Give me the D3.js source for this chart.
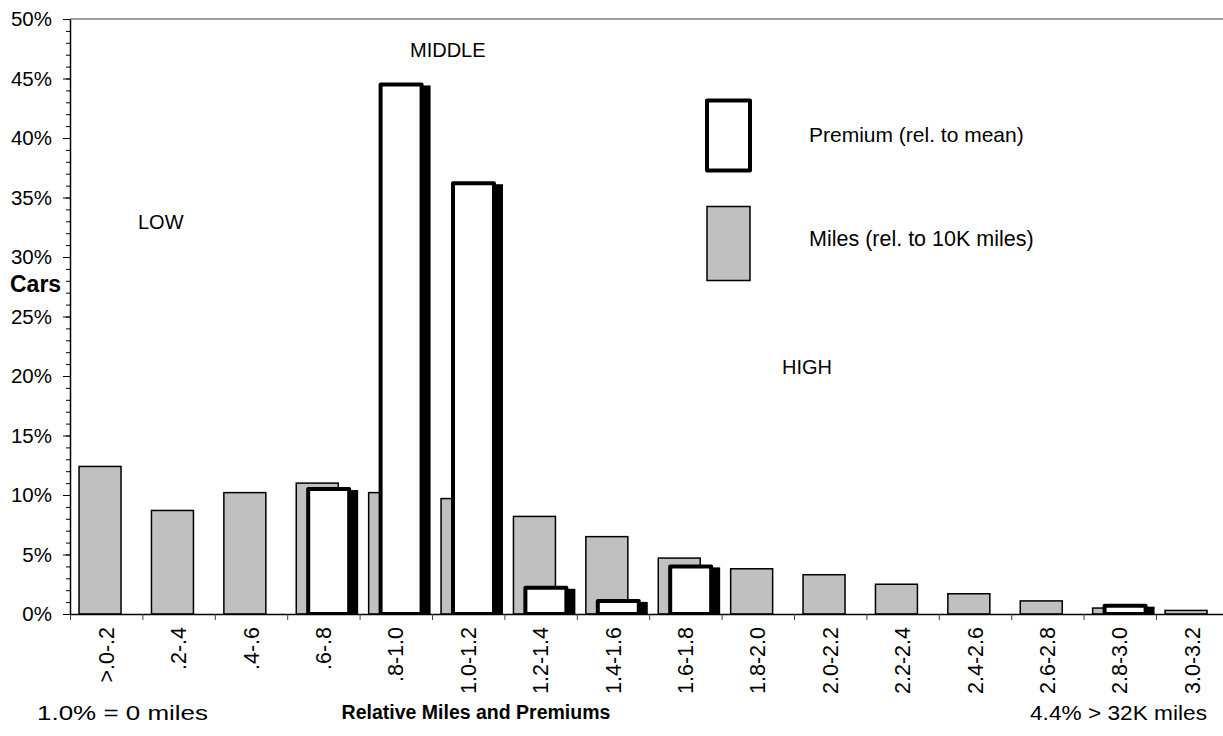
<!DOCTYPE html>
<html>
<head>
<meta charset="utf-8">
<script src="https://cdn.jsdelivr.net/npm/d3@7"></script>
<style>
  body { margin: 0; background: #fff; }
  text { font-family: "Liberation Sans", Arial, sans-serif; fill: #000; }
</style>
</head>
<body>
<svg id="chart" width="1223" height="736"></svg>
<script>
// Mileage bands, relative to 10K miles / relative premium
const categories = [">.0-.2", ".2-.4", ".4-.6", ".6-.8", ".8-1.0", "1.0-1.2", "1.2-1.4", "1.4-1.6",
                    "1.6-1.8", "1.8-2.0", "2.0-2.2", "2.2-2.4", "2.4-2.6", "2.6-2.8", "2.8-3.0", "3.0-3.2"];
// Share of cars (%) by relative miles driven
const milesShare = [12.4, 8.7, 10.2, 11.0, 10.2, 9.7, 8.2, 6.5, 4.7, 3.8, 3.3, 2.5, 1.7, 1.1, 0.5, 0.3];
// Share of cars (%) by relative premium paid (null = no cars in band)
const premiumShare = [null, null, null, 10.5, 44.5, 36.2, 2.2, 1.1, 4.0, null, null, null, null, null, 0.7, null];
const yTickValues = [0, 5, 10, 15, 20, 25, 30, 35, 40, 45, 50];
const seriesNames = ["Premium (rel. to mean)", "Miles (rel. to 10K miles)"];
const bandNames = ["LOW", "MIDDLE", "HIGH"];

const svg = d3.select("#chart");
const plotLeft = 70, plotTop = 19, plotBase = 614, bandW = 72.4;
const plotRight = plotLeft + categories.length * bandW;

const x = d3.scaleBand().domain(categories).range([plotLeft, plotRight]).padding(0);
const xEdge = d3.scaleLinear().domain([0, categories.length]).range([plotLeft, plotRight]);
const y = d3.scaleLinear().domain([0, 50]).range([plotBase, plotTop]);
const bw = x.bandwidth();

// plot frame (top/right edges)
svg.append("path")
  .attr("d", `M${plotLeft},${plotTop}H${plotRight}V${plotBase}`)
  .attr("fill", "none").attr("stroke", "#808080").attr("stroke-width", 1.5);

svg.append("defs").append("clipPath").attr("id", "plot")
  .append("rect").attr("x", plotLeft).attr("y", 0).attr("width", plotRight - plotLeft).attr("height", plotBase);

const bars = svg.append("g").attr("clip-path", "url(#plot)");

// miles bars (grey)
bars.selectAll("rect.miles").data(milesShare).join("rect")
  .attr("class", "miles")
  .attr("x", (d, i) => x(categories[i]) + bw * 0.125)
  .attr("width", bw * 0.58)
  .attr("y", d => y(d))
  .attr("height", d => y(0) - y(d))
  .attr("fill", "#c0c0c0").attr("stroke", "#000").attr("stroke-width", 1.5);

const prem = premiumShare.map((v, i) => ({ v, c: categories[i] })).filter(d => d.v != null);

// premium bar shadows
bars.selectAll("rect.shadow").data(prem).join("rect")
  .attr("class", "shadow")
  .attr("x", d => x(d.c) + bw * 0.29 + 7)
  .attr("width", bw * 0.566)
  .attr("y", d => y(d.v) + 3)
  .attr("height", d => y(0) - y(d.v))
  .attr("fill", "#000").attr("stroke", "#000").attr("stroke-width", 4);

// premium bars (white, heavy outline)
bars.selectAll("rect.prem").data(prem).join("rect")
  .attr("class", "prem")
  .attr("x", d => x(d.c) + bw * 0.29)
  .attr("width", bw * 0.566)
  .attr("y", d => y(d.v))
  .attr("height", d => y(0) - y(d.v))
  .attr("fill", "#fff").attr("stroke", "#000").attr("stroke-width", 4)
  .attr("stroke-linejoin", "round");

// y axis: minor ticks every 1%, major every 5%
const yMinor = svg.append("g").attr("transform", `translate(${plotLeft},0)`)
  .call(d3.axisLeft(y).tickValues(d3.range(0, 51, 1)).tickSize(4).tickFormat(""));
yMinor.select(".domain").remove();
yMinor.selectAll("line").attr("stroke", "#000");

const yAxis = svg.append("g").attr("transform", `translate(${plotLeft},0)`)
  .call(d3.axisLeft(y).tickValues(yTickValues).tickSize(7).tickPadding(11)
        .tickFormat(d => d + "%").tickSizeOuter(0));
yAxis.select(".domain").attr("stroke", "#000").attr("stroke-width", 1.5);
yAxis.selectAll("line").attr("stroke", "#000");
yAxis.selectAll("text").attr("font-size", 20.5).attr("font-family", null);

// x axis: ticks on band edges, labels rotated under each band
const xTicks = svg.append("g").attr("transform", `translate(0,${plotBase})`)
  .call(d3.axisBottom(xEdge).tickValues(d3.range(0, categories.length + 1)).tickSize(6).tickFormat("").tickSizeOuter(0));
xTicks.select(".domain").attr("stroke", "#000").attr("stroke-width", 1.5);
xTicks.selectAll("line").attr("stroke", "#404040");

const xLabels = svg.append("g").attr("transform", `translate(0,${plotBase})`)
  .call(d3.axisBottom(x).tickSize(0).tickPadding(0));
xLabels.select(".domain").remove();
xLabels.selectAll("text")
  .attr("font-size", 21.5).attr("font-family", null)
  .attr("text-anchor", "end")
  .attr("transform", "translate(0,13) rotate(-90)")
  .attr("x", 0).attr("y", 0).attr("dy", "0.35em");

// axis titles and notes
svg.append("text").attr("x", 10).attr("y", 292).attr("font-size", 23).attr("font-weight", "bold").text("Cars");
svg.append("text").attr("x", 476).attr("y", 719).attr("text-anchor", "middle")
  .attr("font-size", 19.5).attr("font-weight", "bold").text("Relative Miles and Premiums");
svg.append("text").attr("x", 37).attr("y", 720).attr("font-size", 20)
  .attr("textLength", 171).attr("lengthAdjust", "spacingAndGlyphs").text("1.0% = 0 miles");
svg.append("text").attr("x", 1030).attr("y", 720).attr("font-size", 20)
  .attr("textLength", 177).attr("lengthAdjust", "spacingAndGlyphs").text("4.4% > 32K miles");

// band annotations
const bandPos = [[138, 229], [410, 57], [782, 374]];
svg.selectAll("text.band").data(bandNames).join("text")
  .attr("class", "band")
  .attr("x", (d, i) => bandPos[i][0]).attr("y", (d, i) => bandPos[i][1])
  .attr("font-size", 20).text(d => d);

// legend
const lg = svg.append("g");
lg.append("rect").attr("x", 707).attr("y", 100.5).attr("width", 43).attr("height", 70)
  .attr("fill", "#fff").attr("stroke", "#000").attr("stroke-width", 4).attr("stroke-linejoin", "round");
lg.append("rect").attr("x", 707).attr("y", 206.5).attr("width", 43).attr("height", 74)
  .attr("fill", "#c0c0c0").attr("stroke", "#000").attr("stroke-width", 1.5);
lg.selectAll("text.leg").data(seriesNames).join("text")
  .attr("class", "leg")
  .attr("x", 809).attr("y", (d, i) => [142, 246][i])
  .attr("font-size", (d, i) => [21, 21.5][i]).text(d => d);
</script>
</body>
</html>
